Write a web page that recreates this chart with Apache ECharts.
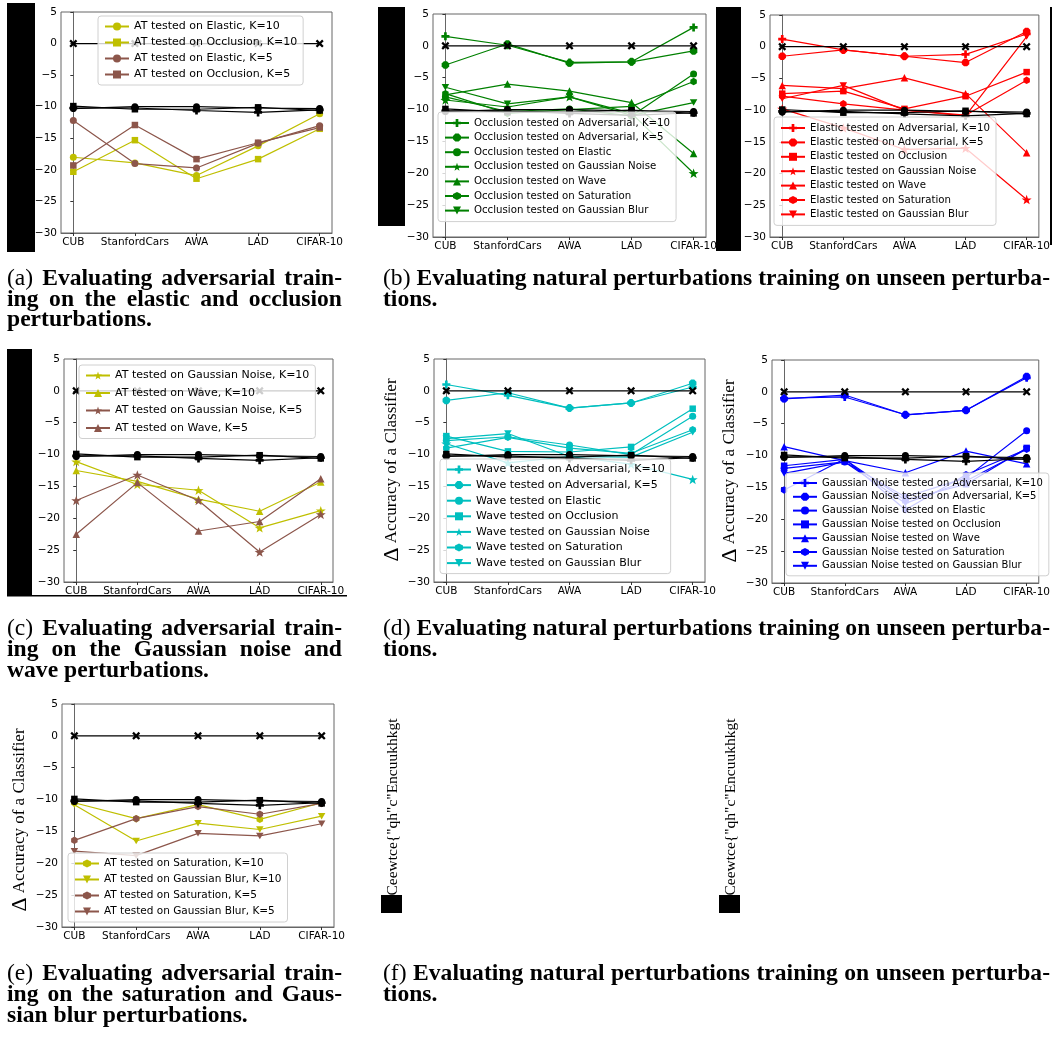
<!DOCTYPE html>
<html>
<head>
<meta charset="utf-8">
<script src="https://cdn.jsdelivr.net/npm/echarts@6/dist/echarts.min.js"></script>
<style>
html, body { margin: 0; padding: 0; background: #fff; }
#main { width: 1053px; height: 1038px; }
</style>
</head>
<body>
<div id="main"></div>
<script>
// x categories and y range (same for every panel)
var categories = ['CUB', 'StanfordCars', 'AWA', 'LAD', 'CIFAR-10'];
var yMin = -30, yMax = 5, yStep = 5;

// black reference lines, drawn in every panel
var refZero = [0, 0, 0, 0, 0];
var refCircle = [-10.3, -10.0, -10.0, -10.2, -10.3];
var refSquare = [-9.9, -10.4, -10.4, -10.1, -10.6];
var refPlus = [-10.2, -10.2, -10.6, -10.9, -10.5];

// (a) adversarial training, elastic / occlusion
var atElasticK10 = [-18.0, -18.9, -20.9, -16.2, -11.1];
var atOcclusionK10 = [-20.3, -15.3, -21.4, -18.3, -13.5];
var atElasticK5 = [-12.2, -19.0, -19.7, -15.8, -13.0];
var atOcclusionK5 = [-19.3, -12.9, -18.3, -15.7, -13.3];

// (b) left: occlusion trained
var occAdvK10 = [1.5, 0.1, -2.6, -2.5, 2.9];
var occAdvK5 = [-3.0, 0.3, -2.7, -2.5, -0.8];
var occElastic = [-8.0, -10.3, -9.9, -11.0, -4.4];
var occGauss = [-8.5, -9.6, -8.0, -10.6, -20.0];
var occWave = [-7.7, -6.0, -7.1, -8.9, -16.9];
var occSat = [-7.5, -10.6, -10.0, -9.5, -5.6];
var occBlur = [-6.5, -9.1, -8.0, -10.9, -8.9];

// (b) right: elastic trained
var elAdvK10 = [1.2, -0.5, -1.5, -1.2, 2.0];
var elAdvK5 = [-1.5, -0.5, -1.5, -2.5, 2.4];
var elOcclusion = [-7.4, -7.0, -9.8, -7.8, -4.0];
var elGauss = [-9.8, -12.8, -16.2, -16.0, -24.1];
var elWave = [-6.1, -6.6, -4.9, -7.4, -16.7];
var elSat = [-7.8, -9.0, -10.0, -10.8, -5.3];
var elBlur = [-8.2, -6.1, -10.0, -10.9, 1.6];

// (c) adversarial training, gaussian noise / wave
var atGaussK10 = [-11.1, -14.7, -15.6, -21.5, -18.8];
var atWaveK10 = [-12.5, -14.2, -17.0, -18.9, -14.3];
var atGaussK5 = [-17.2, -13.2, -17.2, -25.3, -19.4];
var atWaveK5 = [-22.5, -14.4, -22.0, -20.5, -13.8];

// (d) left: wave trained
var wvAdvK10 = [1.0, -0.7, -2.7, -1.9, 0.6];
var wvAdvK5 = [-1.5, -0.3, -2.7, -1.9, 1.2];
var wvElastic = [-7.8, -7.2, -8.5, -10.0, -4.0];
var wvOcclusion = [-7.1, -9.5, -9.6, -8.8, -2.8];
var wvGauss = [-8.3, -11.3, -10.3, -11.5, -13.9];
var wvSat = [-9.0, -7.3, -9.0, -9.8, -6.1];
var wvBlur = [-7.5, -6.7, -10.3, -10.4, -6.5];

// (d) right: gaussian noise trained
var gnAdvK10 = [-1.0, -0.8, -3.6, -2.9, 2.2];
var gnAdvK5 = [-1.1, -0.5, -3.6, -2.9, 2.4];
var gnElastic = [-12.0, -11.0, -16.5, -13.5, -6.1];
var gnOcclusion = [-11.6, -10.6, -17.0, -14.5, -8.8];
var gnWave = [-8.6, -10.8, -12.7, -9.3, -11.3];
var gnSat = [-15.4, -10.5, -18.5, -13.0, -9.0];
var gnBlur = [-12.8, -11.0, -17.5, -14.0, -9.0];

// (e) adversarial training, saturation / gaussian blur
var atSatK10 = [-10.5, -13.0, -10.8, -13.1, -10.5];
var atBlurK10 = [-10.8, -16.5, -13.7, -14.7, -12.6];
var atSatK5 = [-16.4, -13.0, -11.1, -12.3, -10.6];
var atBlurK5 = [-18.1, -18.8, -15.3, -15.7, -13.8];

// captions
var captions = [
    ['(a) Evaluating adversarial train-', 7, 342, 279, true],
    ['ing on the elastic and occlusion', 7, 342, 300, true],
    ['perturbations.', 7, 342, 320, false],
    ['(b) Evaluating natural perturbations training on unseen perturba-', 383, 1050, 279, true],
    ['tions.', 383, 1050, 300, false],
    ['(c) Evaluating adversarial train-', 7, 342, 629, true],
    ['ing on the Gaussian noise and', 7, 342, 650, true],
    ['wave perturbations.', 7, 342, 671, false],
    ['(d) Evaluating natural perturbations training on unseen perturba-', 383, 1050, 629, true],
    ['tions.', 383, 1050, 650, false],
    ['(e) Evaluating adversarial train-', 7, 342, 974, true],
    ['ing on the saturation and Gaus-', 7, 342, 995, true],
    ['sian blur perturbations.', 7, 342, 1016, false],
    ['(f) Evaluating natural perturbations training on unseen perturba-', 383, 1050, 974, true],
    ['tions.', 383, 1050, 995, false]
];

var YELLOW = '#bfbf00', BROWN = '#8c564b', GREEN = '#008000',
    RED = '#ff0000', CYAN = '#00bfbf', BLUE = '#0000ff', BLACK = '#000000';

function polyPath(n, r0, r1, rot) {
    var pts = [];
    var k = r1 ? 2 * n : n;
    for (var i = 0; i < k; i++) {
        var r = (r1 && i % 2) ? r1 : r0;
        var a = rot + i * 2 * Math.PI / k;
        pts.push((r * Math.cos(a)).toFixed(3) + ',' + (r * Math.sin(a)).toFixed(3));
    }
    return 'path://M' + pts.join('L') + 'Z';
}

var SYM = {
    circle: 'circle',
    square: 'rect',
    tri: 'triangle',
    triDown: 'path://M0,0L2,0L1,1.732Z',
    plus: 'path://M-1,-3L1,-3L1,-1L3,-1L3,1L1,1L1,3L-1,3L-1,1L-3,1L-3,-1L-1,-1Z',
    cross: 'path://M2,0L5,3L8,0L10,2L7,5L10,8L8,10L5,7L2,10L0,8L3,5L0,2Z',
    star: polyPath(5, 1, 0.4, -Math.PI / 2),
    hex: polyPath(6, 1, 0, -Math.PI / 2),
    oct: polyPath(8, 1, 0, Math.PI / 8)
};
var SIZE = { circle: 7, rect: 6.5, triangle: 7.5 };
function symSize(s) {
    if (SIZE[s]) return SIZE[s];
    if (s === SYM.star) return 10;
    if (s === SYM.plus) return 8;
    if (s === SYM.cross) return 8;
    return 7.5;
}

var panels = [
    {   // (a)
        grid: { left: 61, top: 12, width: 271, height: 221 },
        legend: { left: 98, top: 16, fs: 11, gap: 5, pad: 5 },
        lines: [
            ['AT tested on Elastic, K=10', atElasticK10, YELLOW, SYM.circle],
            ['AT tested on Occlusion, K=10', atOcclusionK10, YELLOW, SYM.square],
            ['AT tested on Elastic, K=5', atElasticK5, BROWN, SYM.circle],
            ['AT tested on Occlusion, K=5', atOcclusionK5, BROWN, SYM.square]
        ]
    },
    {   // (b) left
        grid: { left: 433, top: 14, width: 273, height: 223 },
        legend: { left: 438, top: 112, fs: 10.2, gap: 4.6, pad: 6 },
        lines: [
            ['Occlusion tested on Adversarial, K=10', occAdvK10, GREEN, SYM.plus],
            ['Occlusion tested on Adversarial, K=5', occAdvK5, GREEN, SYM.oct],
            ['Occlusion tested on Elastic', occElastic, GREEN, SYM.circle],
            ['Occlusion tested on Gaussian Noise', occGauss, GREEN, SYM.star],
            ['Occlusion tested on Wave', occWave, GREEN, SYM.tri],
            ['Occlusion tested on Saturation', occSat, GREEN, SYM.hex],
            ['Occlusion tested on Gaussian Blur', occBlur, GREEN, SYM.triDown]
        ]
    },
    {   // (b) right
        grid: { left: 770, top: 15, width: 271, height: 222 },
        legend: { left: 774, top: 117, fs: 10.2, gap: 4.4, pad: 6 },
        lines: [
            ['Elastic tested on Adversarial, K=10', elAdvK10, RED, SYM.plus],
            ['Elastic tested on Adversarial, K=5', elAdvK5, RED, SYM.oct],
            ['Elastic tested on Occlusion', elOcclusion, RED, SYM.square],
            ['Elastic tested on Gaussian Noise', elGauss, RED, SYM.star],
            ['Elastic tested on Wave', elWave, RED, SYM.tri],
            ['Elastic tested on Saturation', elSat, RED, SYM.hex],
            ['Elastic tested on Gaussian Blur', elBlur, RED, SYM.triDown]
        ]
    },
    {   // (c)
        grid: { left: 64, top: 359, width: 269, height: 223 },
        legend: { left: 79, top: 365, fs: 11, gap: 6.5, pad: 5 },
        lines: [
            ['AT tested on Gaussian Noise, K=10', atGaussK10, YELLOW, SYM.star],
            ['AT tested on Wave, K=10', atWaveK10, YELLOW, SYM.tri],
            ['AT tested on Gaussian Noise, K=5', atGaussK5, BROWN, SYM.star],
            ['AT tested on Wave, K=5', atWaveK5, BROWN, SYM.tri]
        ]
    },
    {   // (d) left
        grid: { left: 434, top: 359, width: 271, height: 223 },
        legend: { left: 440, top: 459, fs: 11, gap: 4.6, pad: 5 },
        ylabel: [392, 470],
        lines: [
            ['Wave tested on Adversarial, K=10', wvAdvK10, CYAN, SYM.plus],
            ['Wave tested on Adversarial, K=5', wvAdvK5, CYAN, SYM.oct],
            ['Wave tested on Elastic', wvElastic, CYAN, SYM.circle],
            ['Wave tested on Occlusion', wvOcclusion, CYAN, SYM.square],
            ['Wave tested on Gaussian Noise', wvGauss, CYAN, SYM.star],
            ['Wave tested on Saturation', wvSat, CYAN, SYM.hex],
            ['Wave tested on Gaussian Blur', wvBlur, CYAN, SYM.triDown]
        ]
    },
    {   // (d) right
        grid: { left: 772, top: 360, width: 274, height: 223 },
        legend: { left: 786, top: 473, fs: 10, gap: 3.8, pad: 5 },
        ylabel: [730, 471],
        lines: [
            ['Gaussian Noise tested on Adversarial, K=10', gnAdvK10, BLUE, SYM.plus],
            ['Gaussian Noise tested on Adversarial, K=5', gnAdvK5, BLUE, SYM.oct],
            ['Gaussian Noise tested on Elastic', gnElastic, BLUE, SYM.circle],
            ['Gaussian Noise tested on Occlusion', gnOcclusion, BLUE, SYM.square],
            ['Gaussian Noise tested on Wave', gnWave, BLUE, SYM.tri],
            ['Gaussian Noise tested on Saturation', gnSat, BLUE, SYM.hex],
            ['Gaussian Noise tested on Gaussian Blur', gnBlur, BLUE, SYM.triDown]
        ]
    },
    {   // (e)
        grid: { left: 62, top: 704, width: 272, height: 223 },
        legend: { left: 68, top: 853, fs: 10.5, gap: 5, pad: 5 },
        ylabel: [20, 820],
        lines: [
            ['AT tested on Saturation, K=10', atSatK10, YELLOW, SYM.hex],
            ['AT tested on Gaussian Blur, K=10', atBlurK10, YELLOW, SYM.triDown],
            ['AT tested on Saturation, K=5', atSatK5, BROWN, SYM.hex],
            ['AT tested on Gaussian Blur, K=5', atBlurK5, BROWN, SYM.triDown]
        ]
    }
];

function lineSeries(name, data, color, symbol, gi, z) {
    return {
        type: 'line',
        name: name,
        xAxisIndex: gi,
        yAxisIndex: gi,
        data: data.map(function (v, i) { return [i, v]; }),
        symbol: symbol,
        symbolSize: symSize(symbol),
        symbolKeepAspect: true,
        lineStyle: { color: color, width: 1.2 },
        itemStyle: { color: color },
        emphasis: { disabled: true },
        z: z
    };
}

var grids = [], xAxes = [], yAxes = [], legends = [], series = [], graphics = [];

panels.forEach(function (p, gi) {
    grids.push({
        left: p.grid.left, top: p.grid.top, width: p.grid.width, height: p.grid.height,
        show: true, borderColor: '#666', borderWidth: 1
    });
    xAxes.push({
        type: 'value', gridIndex: gi, min: -0.2, max: 4.2,
        axisLine: { show: true, onZero: false, lineStyle: { color: '#666' } },
        axisTick: { show: true, length: 3, customValues: [0, 1, 2, 3, 4], lineStyle: { color: '#333' } },
        splitLine: { show: false },
        axisLabel: {
            customValues: [0, 1, 2, 3, 4],
            margin: 4,
            fontFamily: 'DejaVu Sans', fontSize: 10.5, color: '#000',
            formatter: function (v) { return categories[Math.round(v)]; }
        }
    });
    yAxes.push({
        type: 'value', gridIndex: gi, min: yMin, max: yMax, interval: yStep,
        axisLine: { show: true, lineStyle: { color: '#666' } },
        axisTick: { show: true, length: 3, lineStyle: { color: '#333' } },
        splitLine: { show: false },
        axisLabel: {
            margin: 4,
            fontFamily: 'DejaVu Sans', fontSize: 10.5, color: '#000',
            formatter: function (v) { return String(v).replace('-', '\u2212'); }
        }
    });
    var names = [];
    p.lines.forEach(function (l) {
        names.push(l[0]);
        series.push(lineSeries(l[0], l[1], l[2], l[3], gi, 2));
    });
    series.push(lineSeries('ref0_' + gi, refZero, BLACK, SYM.cross, gi, 3));
    series.push(lineSeries('refC_' + gi, refCircle, BLACK, SYM.circle, gi, 3));
    series.push(lineSeries('refS_' + gi, refSquare, BLACK, SYM.square, gi, 3));
    series.push(lineSeries('refP_' + gi, refPlus, BLACK, SYM.plus, gi, 3));
    var lg = p.legend;
    legends.push({
        data: names,
        orient: 'vertical',
        left: lg.left, top: lg.top,
        padding: [lg.pad, 6, lg.pad, 6],
        itemGap: lg.gap, itemWidth: 24, itemHeight: 10,
        backgroundColor: 'rgba(255,255,255,0.8)',
        borderColor: '#d0d0d0', borderWidth: 1, borderRadius: 3,
        textStyle: { fontFamily: 'DejaVu Sans', fontSize: lg.fs, color: '#000' },
        selectedMode: false,
        z: 10
    });
    if (p.ylabel) {
        graphics.push({
            type: 'text', x: p.ylabel[0], y: p.ylabel[1], rotation: Math.PI / 2,
            style: {
                text: '{d|\u0394} Accuracy of a Classifier',
                rich: { d: { fontSize: 22, fontFamily: 'Liberation Serif' } },
                fontFamily: 'Liberation Serif', fontSize: 17, fill: '#000',
                align: 'center', verticalAlign: 'middle'
            }
        });
    }
});

// black blocks and stray text from the source figure
[[7, 3, 28, 249], [378, 7, 27, 219], [716, 7, 25, 244], [1050, 7, 2, 238],
 [7, 349, 25, 247], [7, 595, 340, 1.5], [381, 895, 21, 18], [719, 895, 21, 18]]
    .forEach(function (r) {
        graphics.push({ type: 'rect', shape: { x: r[0], y: r[1], width: r[2], height: r[3] },
            style: { fill: '#000' }, z: 20 });
    });
[[393, 807], [731, 807]].forEach(function (c) {
    graphics.push({
        type: 'text', x: c[0], y: c[1], rotation: Math.PI / 2,
        style: { text: 'Ceewtce{"qh"c"Encuukhkgt', fontFamily: 'Liberation Serif', fontSize: 15.5,
            fill: '#000', align: 'center', verticalAlign: 'middle' }
    });
});

// captions: justified words, bold serif, horizontally squeezed
var capSize = 24;
var ctx = document.createElement('canvas').getContext('2d');
function measure(txt, bold) {
    ctx.font = (bold ? 'bold ' : '') + capSize + 'px "Liberation Serif"';
    return ctx.measureText(txt).width;
}
var refLine = captions[3][0];
var refWords = refLine.split(' ');
var natural = measure(refWords[0], false) + measure(' ' + refWords.slice(1).join(' '), true);
var sx = (captions[3][2] - captions[3][1]) / natural;
captions.forEach(function (c) {
    var words = c[0].split(' ');
    var widths = words.map(function (w, i) {
        return measure(w, !(i === 0 && /^\([a-f]\)$/.test(w))) * sx;
    });
    var total = widths.reduce(function (a, b) { return a + b; }, 0);
    var space = measure(' ', true) * sx;
    var gap = space;
    if (c[4] && words.length > 1) gap = Math.max(space * 0.5, (c[2] - c[1] - total) / (words.length - 1));
    var x = c[1];
    words.forEach(function (w, i) {
        var plain = i === 0 && /^\([a-f]\)$/.test(w);
        graphics.push({
            type: 'text', x: x, y: c[3], scaleX: sx, scaleY: 0.95,
            style: { text: w, fontFamily: 'Liberation Serif', fontSize: capSize,
                fontWeight: plain ? 'normal' : 'bold', fill: '#000', verticalAlign: 'middle' }
        });
        x += widths[i] + gap;
    });
});

var myChart = echarts.init(document.getElementById('main'));
var option = {
    animation: false,
    backgroundColor: '#fff',
    grid: grids,
    xAxis: xAxes,
    yAxis: yAxes,
    legend: legends,
    series: series,
    graphic: graphics
};
myChart.setOption(option, true);
</script>
</body>
</html>
